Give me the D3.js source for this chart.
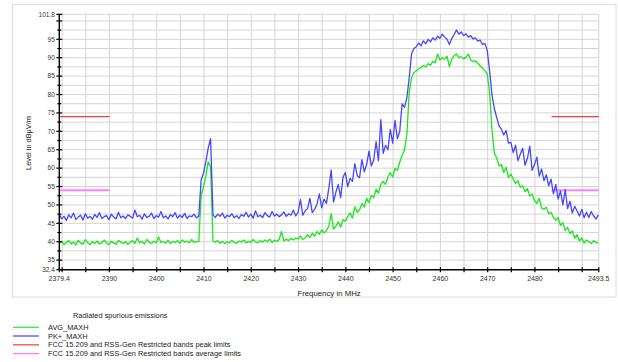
<!DOCTYPE html>
<html>
<head>
<meta charset="utf-8">
<script src="https://cdn.jsdelivr.net/npm/d3@7"></script>
<style>
  body { margin: 0; background: #fff; }
  text { font-family: "Liberation Sans", Arial, sans-serif; }
</style>
</head>
<body>
<svg id="chart" width="618" height="362"></svg>
<script>
// Sweep: first frequency and spacing of the trace samples (MHz)
const freqStart = 2379.4;
const freqStep = 0.5;

// PK+_MAXH trace, dBµV/m
const pkMaxh = [
  47.5, 46.2, 46.9, 45.8, 47.3, 46.5, 47.8, 46.0, 46.7, 47.2,
  45.9, 47.6, 46.4, 46.9, 46.1, 47.4, 46.6, 47.9, 46.3, 46.8,
  47.1, 46.0, 47.5, 46.7, 46.2, 48.0, 46.5, 47.0, 46.3, 47.3,
  46.9, 46.4, 48.6, 46.8, 47.2, 46.1, 47.6, 46.6, 46.9, 47.8,
  46.3, 47.1, 46.7, 48.2, 46.5, 47.0, 46.2, 47.4, 46.8, 47.9,
  46.4, 47.2, 46.6, 47.7, 46.3, 47.0, 46.8, 47.5, 46.5, 46.9,
  56.8, 58.6, 61.8, 65.5, 68.0,
  47.3, 46.6, 47.5, 46.9, 47.8, 46.4, 47.2, 46.8, 47.6, 46.5,
  47.1, 46.3, 47.4, 46.9, 48.0, 46.7, 47.5, 46.4, 48.4, 46.8,
  47.2, 46.6, 47.9, 47.1, 46.7, 48.2, 47.0, 47.5, 46.8, 47.3,
  48.1, 46.9, 47.6, 47.2, 48.6, 47.0,
  48.0, 51.5, 47.2, 48.4, 49.0, 51.8, 47.9, 48.8, 50.2, 53.0,
  49.2, 51.6, 50.4, 54.5, 59.5, 50.8, 53.5, 55.6, 52.0, 57.5,
  58.8, 55.0, 57.2, 56.4, 61.2, 58.0, 57.4, 62.3, 59.0, 61.0,
  64.6, 60.6, 62.2, 67.2, 62.0, 73.2, 64.0, 66.2, 65.0, 70.5,
  66.8, 73.0, 68.0, 70.0, 77.5,
  76.5, 79.0, 84.5, 91.0, 92.5, 93.0, 94.0,
  93.2, 94.6, 93.8, 95.0, 94.3, 95.4, 94.8, 95.8, 95.3, 96.4,
  95.6, 95.0, 93.6, 95.2, 96.3, 97.5, 96.4, 97.0, 96.0, 96.5,
  95.6, 96.0, 95.1, 95.4, 94.5, 94.8, 93.6, 93.9, 92.0,
  86.5, 80.0, 76.2, 73.8, 71.5, 70.6, 69.0, 70.2, 66.8, 67.0,
  64.2, 66.2, 62.0, 63.8, 65.4, 60.8, 62.6, 66.0, 59.4, 61.0,
  63.0, 57.8, 59.8, 56.6, 58.2, 55.2, 57.0, 53.0, 55.6, 51.6,
  53.8, 50.0, 54.2, 49.0, 51.0, 47.8, 49.6, 48.4, 47.0, 48.8,
  46.5, 48.0, 46.6, 48.2, 47.0, 46.2, 47.3
];

// AVG_MAXH trace, dBµV/m
const avgMaxh = [
  39.5, 40.1, 39.2, 39.8, 40.3, 39.4, 39.9, 39.1, 40.4, 39.6,
  39.3, 40.6, 39.7, 39.2, 40.0, 39.5, 40.2, 39.4, 39.8, 40.5,
  39.6, 39.2, 40.1, 39.7, 39.3, 40.4, 39.9, 39.5, 40.0, 39.3,
  39.8, 40.3, 39.6, 41.0, 39.7, 40.1, 39.4, 40.6, 39.9, 39.5,
  40.2, 39.7, 41.3, 39.8, 40.0, 39.6, 40.4, 39.5, 40.1, 39.8,
  40.3, 39.6, 40.5, 39.9, 40.2, 39.7, 40.6, 39.8, 40.1, 40.0,
  52.5, 55.0, 57.8, 61.7, 60.3,
  40.2, 39.9, 40.3, 39.6, 40.1, 39.5, 40.0, 39.7, 40.4, 39.8,
  39.6, 40.2, 39.9, 40.5, 39.7, 40.1, 39.8, 40.6, 40.0, 39.7,
  40.3, 39.9, 40.5, 40.0, 40.7, 39.8, 40.4, 40.1, 40.6, 42.8,
  40.2, 40.7, 40.3, 40.9, 40.5, 41.0,
  40.8, 41.6, 40.6, 41.0, 41.9, 41.2, 42.3, 41.5, 42.8, 42.0,
  43.2, 42.4, 43.0, 44.2, 47.6, 43.4, 44.2, 45.4, 44.0, 46.0,
  45.6, 46.8, 47.8, 46.4, 49.5, 48.0, 48.6, 50.4, 49.4, 51.8,
  50.6, 52.6, 52.0, 54.2, 53.2, 55.6, 56.4, 55.6, 57.6, 58.8,
  57.6, 60.0, 59.4, 61.6, 63.5,
  65.0, 69.0, 80.5, 84.6, 86.0, 86.4, 87.0,
  87.3, 87.9, 87.5, 88.4, 88.0, 89.0, 88.6, 91.0, 89.4, 90.0,
  89.6, 90.4, 87.6, 89.5, 90.6, 91.0, 90.0, 90.3, 89.7, 90.1,
  91.0, 89.4, 88.9, 89.2, 88.5, 87.8, 87.2, 86.5, 85.6,
  80.5, 70.5, 64.0, 62.8, 60.6, 61.0, 58.8, 60.2, 57.4, 58.4,
  57.0, 55.8, 56.6, 54.8, 55.2, 53.6, 54.4, 52.4, 53.0, 51.2,
  50.4, 51.8, 49.2, 48.8, 49.4, 47.6, 48.0, 46.6, 45.8, 46.6,
  44.4, 45.2, 43.0, 43.9, 42.2, 42.9, 41.0, 41.9, 40.2, 41.0,
  39.6, 40.5, 40.0, 39.5, 40.3, 39.8, 39.6
];

// Restricted-band limit lines
const limitBands = [[2379.4, 2390], [2483.5, 2493.5]];
const peakLimit = 74;
const averageLimit = 54;

// Axes
const xDomain = [2379.4, 2493.5];
const yDomain = [32.4, 101.8];
const xTickLabels = [2379.4, 2390, 2400, 2410, 2420, 2430, 2440, 2450, 2460, 2470, 2480, 2493.5];
const yTickLabels = [32.4, 35, 40, 45, 50, 55, 60, 65, 70, 75, 80, 85, 90, 95, 101.8];

// Legend
const legendTitle = "Radiated spurious emissions";
const legendNames = [
  "AVG_MAXH",
  "PK+_MAXH",
  "FCC 15.209 and RSS-Gen Restricted bands peak limits",
  "FCC 15.209 and RSS-Gen Restricted bands average limits"
];
const legendColors = ["#3ee83e", "#8c8cff", "#ff4a4a", "#ff80ff"];

const svg = d3.select("#chart");

// outer frame
svg.append("rect")
  .attr("x", 12.5).attr("y", 4.5).attr("width", 603.5).attr("height", 292.5)
  .attr("fill", "#fff").attr("stroke", "#dcdcdc").attr("stroke-width", 1);

const x = d3.scaleLinear().domain(xDomain).range([59.3, 598.8]);
const y = d3.scaleLinear().domain(yDomain).range([269.7, 14.3]);

const grid = svg.append("g").attr("stroke", "#d4d4d4").attr("stroke-width", 1);
d3.range(2380, 2491, 5).concat([xDomain[1]]).forEach(f => {
  grid.append("line").attr("x1", x(f)).attr("x2", x(f)).attr("y1", y(yDomain[0])).attr("y2", y(yDomain[1]));
});
d3.range(35, 100.1, 2.5).concat([yDomain[1]]).forEach(v => {
  grid.append("line").attr("x1", x(xDomain[0])).attr("x2", x(xDomain[1])).attr("y1", y(v)).attr("y2", y(v));
});

// limit lines
const limits = [
  { value: peakLimit, color: "#ff3c3c", width: 1.3 },
  { value: averageLimit, color: "#ff80ff", width: 2 }
];
limits.forEach(l => {
  limitBands.forEach(b => {
    svg.append("line")
      .attr("x1", x(b[0])).attr("x2", x(b[1]))
      .attr("y1", y(l.value)).attr("y2", y(l.value))
      .attr("stroke", l.color).attr("stroke-width", l.width);
  });
});

// traces
const freqs = pkMaxh.map((_, i) => freqStart + i * freqStep);
const line = d3.line().x((d, i) => x(freqs[i])).y(d => y(d));
svg.append("path").datum(avgMaxh).attr("d", line)
  .attr("fill", "none").attr("stroke", "#18e818").attr("stroke-width", 1.3).attr("stroke-linejoin", "round");
svg.append("path").datum(pkMaxh).attr("d", line)
  .attr("fill", "none").attr("stroke", "#4646ff").attr("stroke-width", 1.3).attr("stroke-linejoin", "round");

// y axis
const yAxis = svg.append("g");
yAxis.append("line").attr("x1", x(xDomain[0])).attr("x2", x(xDomain[0]))
  .attr("y1", y(yDomain[0])).attr("y2", y(yDomain[1])).attr("stroke", "#000").attr("stroke-width", 1.4);
d3.range(35, 100.1, 2.5).concat(yDomain).forEach(v => {
  const major = v % 5 === 0 || yDomain.includes(v);
  yAxis.append("line")
    .attr("x1", x(xDomain[0]) - (major ? 3 : 2)).attr("x2", x(xDomain[0]) + (major ? 3 : 2))
    .attr("y1", y(v)).attr("y2", y(v)).attr("stroke", "#000").attr("stroke-width", 1.2);
});
yTickLabels.forEach(v => {
  yAxis.append("text").attr("x", x(xDomain[0]) - 4.5).attr("y", y(v)).attr("dy", "0.35em")
    .attr("text-anchor", "end").attr("font-size", 6.5).attr("fill", "#333").text(v);
});

// x axis
const xAxis = svg.append("g");
xAxis.append("line").attr("x1", x(xDomain[0])).attr("x2", x(xDomain[1]))
  .attr("y1", y(yDomain[0])).attr("y2", y(yDomain[0])).attr("stroke", "#000").attr("stroke-width", 1.4);
d3.range(2380, 2491, 5).concat(xDomain).forEach(f => {
  xAxis.append("line").attr("x1", x(f)).attr("x2", x(f))
    .attr("y1", y(yDomain[0]) - 2.5).attr("y2", y(yDomain[0]) + 2.5).attr("stroke", "#000").attr("stroke-width", 1.2);
});
xTickLabels.forEach(f => {
  xAxis.append("text").attr("x", x(f)).attr("y", 278.5).attr("dy", "0.35em")
    .attr("text-anchor", "middle").attr("font-size", 7).attr("fill", "#333").text(f);
});

// axis titles
svg.append("text").attr("x", (x(xDomain[0]) + x(xDomain[1])) / 2).attr("y", 293.5).attr("dy", "0.35em")
  .attr("text-anchor", "middle").attr("font-size", 7.8).attr("fill", "#222").text("Frequency in MHz");
svg.append("text").attr("transform", "translate(28.5,143) rotate(-90)").attr("dy", "0.35em")
  .attr("text-anchor", "middle").attr("font-size", 7.4).attr("fill", "#222").text("Level in dBµV/m");

// legend
svg.append("text").attr("x", 73).attr("y", 315.7).attr("dy", "0.35em")
  .attr("font-size", 7.4).attr("fill", "#222").text(legendTitle);
const legendY = [327.3, 336, 344.8, 353.6];
legendNames.forEach((name, i) => {
  svg.append("line").attr("x1", 13).attr("x2", 39).attr("y1", legendY[i]).attr("y2", legendY[i])
    .attr("stroke", legendColors[i]).attr("stroke-width", i === 1 ? 2 : 1.3);
  svg.append("text").attr("x", 48).attr("y", legendY[i]).attr("dy", "0.35em")
    .attr("font-size", 7.4).attr("fill", "#222").text(name);
});
</script>
</body>
</html>
